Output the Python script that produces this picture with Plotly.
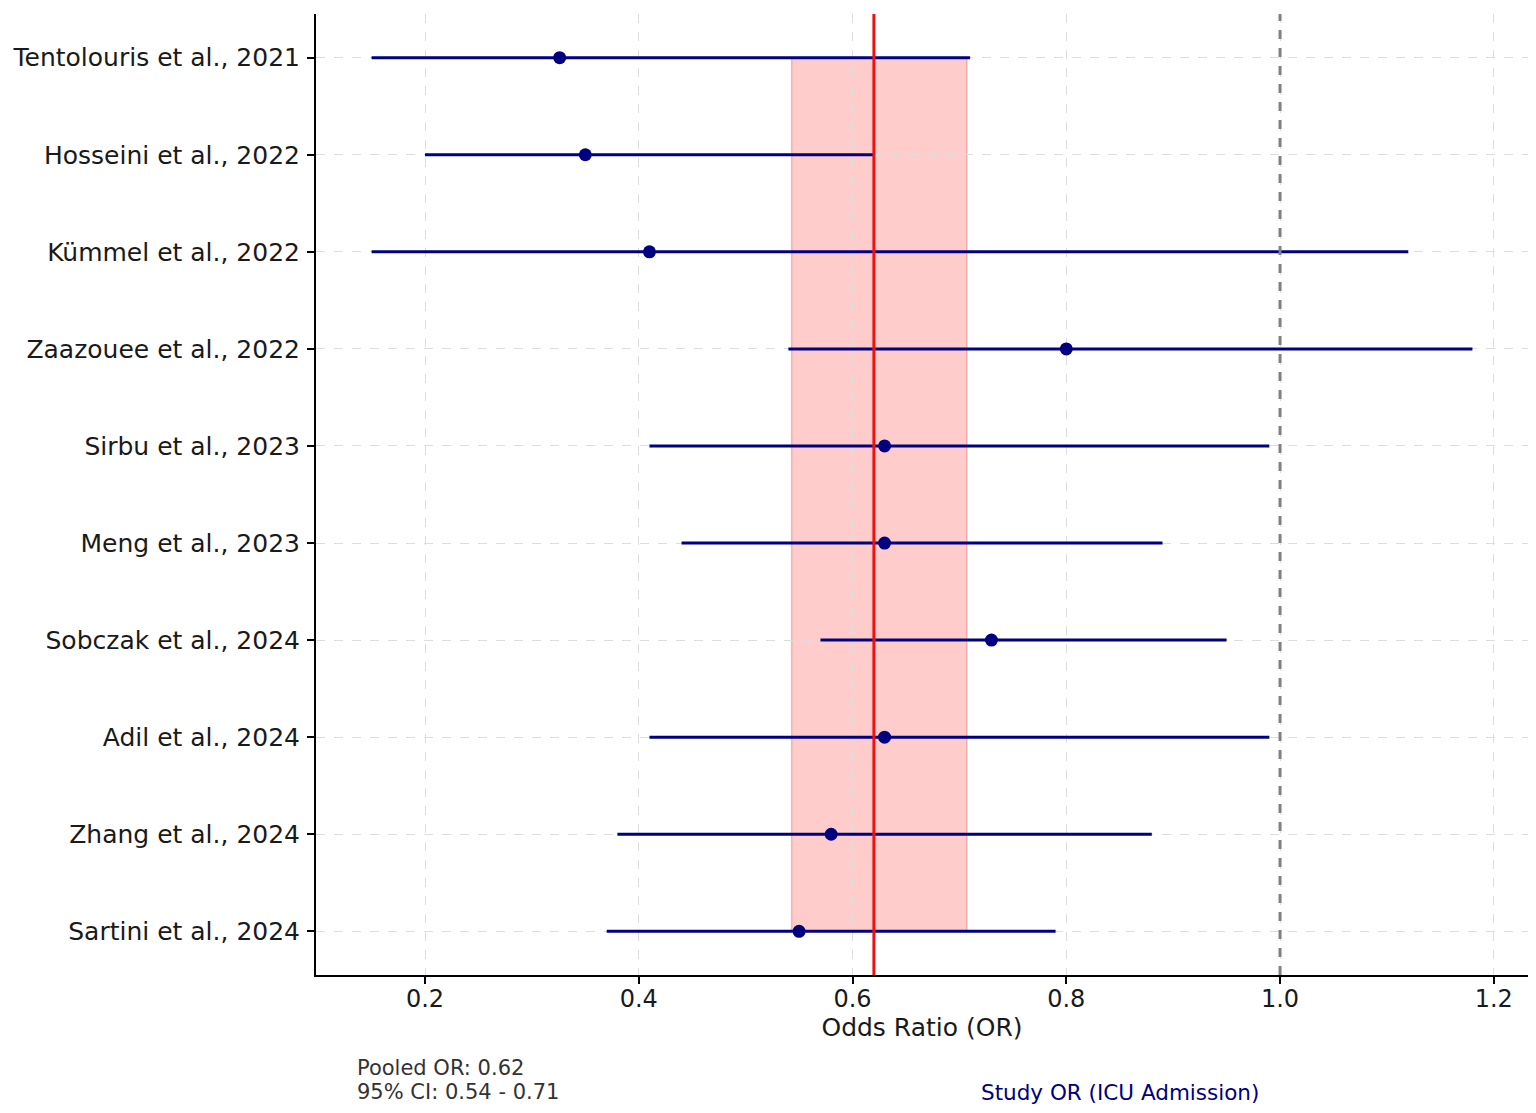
import plotly.graph_objects as go

# --- data ---
studies = [
    "Tentolouris et al., 2021",
    "Hosseini et al., 2022",
    "Kümmel et al., 2022",
    "Zaazouee et al., 2022",
    "Sirbu et al., 2023",
    "Meng et al., 2023",
    "Sobczak et al., 2024",
    "Adil et al., 2024",
    "Zhang et al., 2024",
    "Sartini et al., 2024",
]
odds_ratio = [0.326, 0.35, 0.41, 0.80, 0.63, 0.63, 0.73, 0.63, 0.58, 0.55]
ci_low     = [0.15, 0.20, 0.15, 0.54, 0.41, 0.44, 0.57, 0.41, 0.38, 0.37]
ci_high    = [0.71, 0.62, 1.12, 1.18, 0.99, 0.89, 0.95, 0.99, 0.88, 0.79]

pooled_or   = 0.62
pooled_low  = 0.543
pooled_high = 0.707
null_line   = 1.0

x_ticks = [0.2, 0.4, 0.6, 0.8, 1.0, 1.2]

FONT = "DejaVu Sans"
NAVY = "#000080"

ypos = list(range(len(studies)))
err_plus  = [h - o for h, o in zip(ci_high, odds_ratio)]
err_minus = [o - l for o, l in zip(odds_ratio, ci_low)]

fig = go.Figure()

# pooled CI band (from first study row to last)
fig.add_shape(type="rect", xref="x", yref="y",
              x0=pooled_low, x1=pooled_high, y0=ypos[0], y1=ypos[-1],
              fillcolor="rgba(255,0,0,0.2)", line=dict(color="rgba(220,80,80,0.35)", width=1.5),
              layer="below")

# study ORs with CI
fig.add_trace(go.Scatter(
    x=odds_ratio, y=ypos, mode="markers",
    marker=dict(color=NAVY, size=13),
    error_x=dict(type="data", array=err_plus, arrayminus=err_minus,
                 color=NAVY, thickness=3, width=0),
    name="Study OR (ICU Admission)", showlegend=False, hoverinfo="x+y",
))

# null line and pooled line
fig.add_shape(type="line", xref="x", yref="paper", x0=null_line, x1=null_line, y0=0, y1=1,
              line=dict(color="#808080", width=3, dash="dash"), layer="above")
fig.add_shape(type="line", xref="x", yref="paper", x0=pooled_or, x1=pooled_or, y0=0, y1=1,
              line=dict(color="#ee1111", width=3), layer="above")

# text under the chart
fig.add_annotation(xref="paper", yref="paper", x=0.032, y=-0.097, xanchor="left", yanchor="middle",
                   text=f"Pooled OR: {pooled_or:.2f}", showarrow=False,
                   font=dict(family=FONT, size=21, color="#333333"))
fig.add_annotation(xref="paper", yref="paper", x=0.032, y=-0.122, xanchor="left", yanchor="middle",
                   text=f"95% CI: {pooled_low:.2f} - {pooled_high:.2f}", showarrow=False,
                   font=dict(family=FONT, size=21, color="#333333"))
fig.add_annotation(xref="paper", yref="paper", x=0.547, y=-0.122, xanchor="left", yanchor="middle",
                   text="Study OR (ICU Admission)", showarrow=False,
                   font=dict(family=FONT, size=21.5, color=NAVY))

fig.update_layout(
    width=1536, height=1113,
    margin=dict(l=308, r=16, t=6, b=146, autoexpand=False),
    plot_bgcolor="white", paper_bgcolor="white",
    font=dict(family=FONT, color="#1a1a1a"),
    showlegend=False,
)
fig.update_xaxes(
    range=[0.098, 1.232], tickvals=x_ticks, ticktext=[f"{v:.1f}" for v in x_ticks],
    showgrid=True, gridcolor="#dddddd", griddash="dash", gridwidth=1,
    showline=True, linecolor="black", linewidth=2, mirror=False,
    ticks="outside", ticklen=7, tickwidth=1.5, tickcolor="black",
    tickfont=dict(size=24), zeroline=False, ticklabelstandoff=-6, automargin=False,
    title=dict(text="Odds Ratio (OR)", font=dict(size=25), standoff=6),
)
fig.update_yaxes(
    range=[len(studies) - 1 + 0.45, -0.45], tickvals=ypos, ticktext=studies,
    showgrid=True, gridcolor="#dddddd", griddash="dash", gridwidth=1,
    showline=True, linecolor="black", linewidth=2,
    ticks="outside", ticklen=7, tickwidth=1.5, tickcolor="black",
    tickfont=dict(size=25), zeroline=False, ticklabelstandoff=2, automargin=False,
)

fig.write_html("out.html")
